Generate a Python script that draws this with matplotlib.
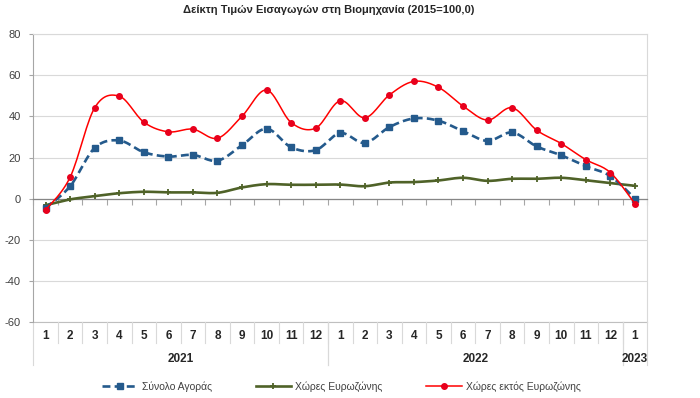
import numpy as np
import matplotlib
matplotlib.use("Agg")
import matplotlib.pyplot as plt
from matplotlib.lines import Line2D

plt.rcParams['font.family'] = ['Liberation Sans', 'DejaVu Sans']
plt.rcParams['axes.unicode_minus'] = False

title = "Δείκτη Τιμών Εισαγωγών στη Βιομηχανία (2015=100,0)"
months = ["1", "2", "3", "4", "5", "6", "7", "8", "9", "10", "11", "12",
          "1", "2", "3", "4", "5", "6", "7", "8", "9", "10", "11", "12", "1"]
years = ["2021", "2022", "2023"]
year_spans = [(0, 11), (12, 23), (24, 24)]

total = [-4.4, 6.1, 24.7, 28.3, 22.6, 20.5, 21.3, 18.5, 26.0, 34.0, 25.0, 23.6,
         31.9, 27.1, 34.8, 39.0, 37.9, 32.8, 28.1, 32.2, 25.4, 21.1, 15.8, 11.0, 0.1]
euro = [-3.1, -0.3, 1.3, 2.7, 3.4, 3.1, 3.1, 2.9, 5.5, 7.1, 6.8, 6.8,
        6.9, 6.1, 7.9, 8.1, 8.9, 10.2, 8.7, 9.7, 9.7, 10.2, 9.0, 7.6, 6.3]
non_euro = [-5.5, 10.5, 44.2, 49.8, 37.2, 32.5, 33.8, 29.4, 40.1, 52.8, 37.0, 34.3,
            47.6, 39.3, 50.4, 57.0, 54.1, 45.0, 38.2, 44.2, 33.3, 26.8, 19.0, 12.7, -2.4]

labels = ["Σύνολο Αγοράς", "Χώρες Ευρωζώνης", "Χώρες εκτός Ευρωζώνης"]


def smooth(x, y, n=16):
    # catmull-rom style curve like Excel's "smoothed line"
    p = np.column_stack([x, y]).astype(float)
    p = np.vstack([p[0], p, p[-1]])
    out = []
    t = np.linspace(0, 1, n)[:, None]
    for i in range(1, len(p) - 2):
        p0, p1, p2, p3 = p[i - 1], p[i], p[i + 1], p[i + 2]
        c1 = p1 + (p2 - p0) / 6
        c2 = p2 - (p3 - p1) / 6
        seg = ((1 - t) ** 3) * p1 + 3 * ((1 - t) ** 2) * t * c1 + 3 * (1 - t) * t ** 2 * c2 + t ** 3 * p2
        out.append(seg if i == 1 else seg[1:])
    out = np.vstack(out)
    return out[:, 0], out[:, 1]


x = np.arange(len(months))

fig = plt.figure(figsize=(7, 3.98), dpi=100)
ax = fig.add_axes([0.0476, 0.190, 0.877, 0.7246])

blue, green, red = '#245A8C', '#4F6228', '#FF0000'

sx, sy = smooth(x, euro)
ax.plot(sx, sy, color=green, lw=1.9, zorder=3)
ax.plot(x, euro, ls='none', marker='+', ms=4, mew=1.3, color=green, zorder=4)

sx, sy = smooth(x, total)
ax.plot(sx, sy, color=blue, lw=1.9, dashes=(3, 1.6), zorder=3)
ax.plot(x, total, ls='none', marker='s', ms=4, color=blue, zorder=4)

sx, sy = smooth(x, non_euro)
ax.plot(sx, sy, color=red, lw=1.1, zorder=5)
ax.plot(x, non_euro, ls='none', marker='o', ms=4, color='#E8001C', zorder=6)

ax.set_xlim(-0.5, len(months) - 0.5)
ax.set_ylim(-60, 80)
ax.set_yticks(np.arange(-60, 81, 20))
ax.tick_params(axis='y', length=3, color='#A6A6A6', labelsize=8, labelcolor='#404040', pad=6)
ax.yaxis.grid(True, color='#D9D9D9', lw=0.8)
ax.set_axisbelow(True)

# category axis crosses at zero, labels sit at the bottom
ax.spines['bottom'].set_position(('data', 0))
ax.spines['bottom'].set_color('#868686')
ax.spines['bottom'].set_linewidth(0.9)
ax.set_xticks(np.arange(-0.5, len(months), 1))
ax.tick_params(axis='x', length=4, color='#A6A6A6', labelbottom=False, direction='out')
ax.spines['left'].set_color('#A6A6A6')
for s in ['top', 'right']:
    ax.spines[s].set_color('#D9D9D9')
ax.axhline(-60, color='#BFBFBF', lw=0.8, clip_on=False)

tr = ax.get_xaxis_transform()
for i, m in enumerate(months):
    ax.text(i, -0.048, m, transform=tr, ha='center', va='center',
            fontsize=8.5, fontweight='bold', color='#262626')
for b in np.arange(0.5, len(months) - 1, 1):
    ax.plot([b, b], [0, -0.073], transform=tr, color='#D9D9D9', lw=0.8, clip_on=False)
for lo, hi in year_spans:
    for b in (lo - 0.5, hi + 0.5):
        ax.plot([b, b], [0, -0.149], transform=tr, color='#D9D9D9', lw=0.8, clip_on=False)
for (lo, hi), yr in zip(year_spans, years):
    ax.text((lo + hi) / 2, -0.127, yr, transform=tr, ha='center', va='center',
            fontsize=8.5, fontweight='bold', color='#262626')

fig.text(0.47, 0.975, title, ha='center', va='center', fontsize=8, fontweight='bold', color='#262626')

handles = [
    Line2D([], [], color=blue, lw=1.9, dashes=(3, 1.6), marker='s', ms=4),
    Line2D([], [], color=green, lw=1.9, marker='+', ms=4, mew=1.3),
    Line2D([], [], color=red, lw=1.1, marker='o', ms=4, mfc='#E8001C', mec='#E8001C'),
]
fig.legend(handles, labels, loc='center', bbox_to_anchor=(0.488, 0.028), ncol=3, frameon=False,
           fontsize=7.5, handlelength=3.4, handletextpad=0.4, columnspacing=4.2, labelcolor='#404040')

fig.savefig('out.png', dpi=100)
